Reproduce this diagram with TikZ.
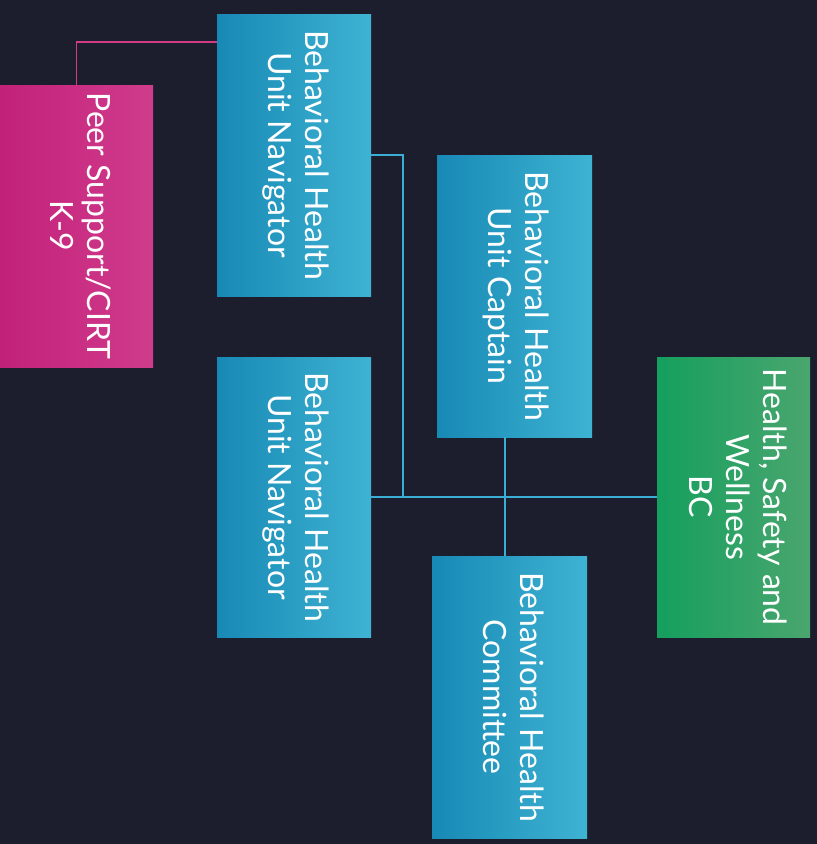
\documentclass[tikz,border=0pt]{standalone}
\usepackage{fontspec}
\usepackage{graphicx}
\setmainfont{Lato}
\definecolor{bgc}{HTML}{1C1E2D}
\definecolor{blueL}{HTML}{1789B5}
\definecolor{blueR}{HTML}{3FB3D3}
\definecolor{pinkL}{HTML}{C2217A}
\definecolor{pinkR}{HTML}{D03C8C}
\definecolor{greenL}{HTML}{159F5E}
\definecolor{greenR}{HTML}{4AA66E}
\definecolor{pinkLine}{HTML}{D23C86}
\definecolor{blueLine}{HTML}{3AAED4}
\newcommand{\vtext}[1]{\rotatebox{-90}{\fontsize{32}{37}\selectfont\begin{tabular}{@{}c@{}}#1\end{tabular}}}
\begin{document}
\begin{tikzpicture}[x=1pt,y=1pt,
  box/.style={draw=none,inner sep=0pt,outer sep=0pt,text=white},
  bluebox/.style={box,left color=blueL,right color=blueR},
  pinkbox/.style={box,left color=pinkL,right color=pinkR},
  greenbox/.style={box,left color=greenL,right color=greenR},
  pinkline/.style={draw=pinkLine,line width=1.8pt},
  blueline/.style={draw=blueLine,line width=1.8pt}]
\fill[bgc] (0,0) rectangle (817,-844);
\useasboundingbox (0,0) rectangle (817,-844);
\node[pinkbox,minimum width=153pt,minimum height=282pt] (pink) at (76.5,-226) {\vtext{Peer Support/CIRT\\K-9}};
\node[bluebox,minimum width=154pt,minimum height=282pt] (nav1) at (294,-155) {\vtext{Behavioral Health\\Unit Navigator}};
\node[bluebox,minimum width=154pt,minimum height=280pt] (nav2) at (294,-497) {\vtext{Behavioral Health\\Unit Navigator}};
\node[bluebox,minimum width=155pt,minimum height=282pt] (cap) at (514.5,-296) {\vtext{Behavioral Health\\Unit Captain}};
\node[bluebox,minimum width=155pt,minimum height=282pt] (com) at (509.5,-697) {\vtext{Behavioral Health\\Committee}};
\node[greenbox,minimum width=153pt,minimum height=280pt] (hsw) at (733.5,-497) {\vtext{Health, Safety and\\Wellness\\BC}};
\coordinate (j1) at (403,-497);
\draw[pinkline] (pink.north) |- ([yshift=-28pt]nav1.north west);
\draw[blueline] (nav1.east) -| (j1);
\draw[blueline] (nav2.east) -- (hsw.west);
\draw[blueline] ([xshift=-9.5pt]cap.south) -- ([xshift=-4.5pt]com.north);
\end{tikzpicture}
\end{document}
